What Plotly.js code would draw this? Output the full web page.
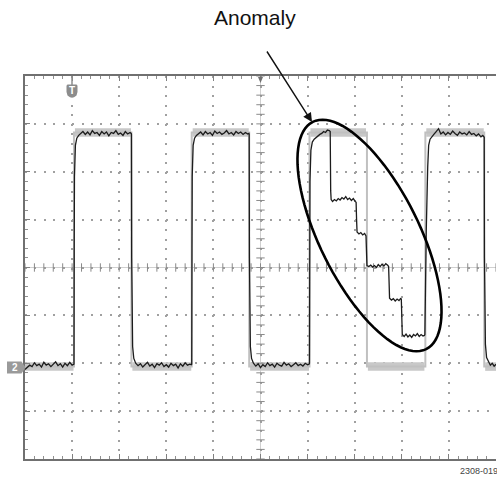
<!DOCTYPE html>
<html><head><meta charset="utf-8">
<script src="https://cdn.plot.ly/plotly-3.0.1.min.js"></script>
<style>html,body{margin:0;padding:0;background:#fff;}#chart{width:497px;height:477px;}</style>
</head><body><div id="chart"></div>
<script>
// ---- Data (horizontal: divisions 0..10, vertical: divisions -4..4) ----
// Measured (black) channel-2 trace
const sigT = [
 0.00,0.05,0.10,0.15,0.20,0.25,0.30,0.35,0.40,0.45,0.50,0.55,0.60,0.65,0.70,0.75,0.80,0.85,0.90,0.95,1.00,1.03,
 1.04,1.045,1.05,1.07,1.10,1.14,
 1.18,1.23,1.28,1.33,1.38,1.43,1.48,1.53,1.58,1.63,1.68,1.73,1.78,1.83,1.88,1.93,1.98,2.03,2.08,2.13,2.18,2.23,2.255,
 2.26,2.265,2.27,2.285,2.31,2.35,
 2.40,2.45,2.50,2.55,2.60,2.65,2.70,2.75,2.80,2.85,2.90,2.95,3.00,3.05,3.10,3.15,3.20,3.25,3.30,3.35,3.40,3.45,3.50,3.53,
 3.54,3.545,3.55,3.57,3.60,3.64,
 3.68,3.73,3.78,3.83,3.88,3.93,3.98,4.03,4.08,4.13,4.18,4.23,4.28,4.33,4.38,4.43,4.48,4.53,4.58,4.63,4.68,4.73,4.755,
 4.76,4.765,4.77,4.785,4.81,4.85,
 4.90,4.95,5.00,5.05,5.10,5.15,5.20,5.25,5.30,5.35,5.40,5.45,5.50,5.55,5.60,5.65,5.70,5.75,5.80,5.85,5.90,5.95,6.00,6.03,
 6.04,6.045,6.05,6.07,6.10,6.14,6.18,6.22,6.26,6.30,6.34,6.38,6.42,6.46,6.48,
 6.49,6.50,6.53,6.57,6.61,6.65,6.69,6.73,6.77,6.81,6.85,6.89,6.93,6.97,7.01,7.03,
 7.04,7.05,7.09,7.13,7.17,7.21,7.24,
 7.25,7.26,7.30,7.34,7.38,7.42,7.46,7.50,7.54,7.58,7.62,7.66,7.70,7.72,
 7.73,7.74,7.78,7.82,7.86,7.90,7.94,7.98,7.99,
 8.00,8.01,8.05,8.09,8.13,8.17,8.21,8.25,8.29,8.33,8.37,8.41,8.45,8.48,
 8.49,8.50,8.52,8.55,8.57,8.60,8.64,
 8.68,8.73,8.78,8.83,8.88,8.93,8.98,9.03,9.08,9.13,9.18,9.23,9.28,9.33,9.38,9.43,9.48,9.53,9.58,9.63,9.68,9.72,9.745,
 9.75,9.755,9.76,9.775,9.80,9.84,
 9.88,9.92,9.96,10.00
];
const sigV = [
 -2.13,-2.09,-2.04,-2.07,-1.99,-2.05,-2.02,-2.08,-1.98,-2.04,-2.01,-2.07,-2.02,-1.97,-2.05,-2.01,-2.08,-2.00,-2.05,-1.98,-2.04,-2.03,
 -2.02,0.40,1.90,2.55,2.70,2.76,
 2.79,2.84,2.78,2.83,2.77,2.86,2.80,2.82,2.76,2.84,2.79,2.83,2.75,2.82,2.80,2.86,2.78,2.81,2.76,2.84,2.79,2.82,2.80,
 2.78,0.20,-0.90,-1.65,-1.90,-2.00,
 -2.05,-2.01,-2.08,-2.03,-1.98,-2.06,-2.02,-2.09,-2.01,-2.04,-1.99,-2.07,-2.03,-2.08,-2.00,-2.05,-2.02,-2.10,-2.01,-2.06,-1.99,-2.04,-2.02,-2.03,
 -2.02,0.40,1.90,2.55,2.70,2.76,
 2.80,2.83,2.77,2.84,2.79,2.82,2.76,2.85,2.80,2.83,2.78,2.81,2.86,2.79,2.82,2.77,2.84,2.80,2.83,2.78,2.82,2.79,2.80,
 2.78,0.20,-0.90,-1.65,-1.90,-2.00,
 -2.06,-2.01,-2.09,-2.03,-2.07,-1.99,-2.05,-2.02,-2.08,-2.00,-2.04,-2.06,-1.98,-2.04,-2.01,-2.07,-2.03,-1.99,-2.05,-2.02,-2.06,-2.00,-2.03,-2.02,
 -2.00,0.40,1.80,2.45,2.62,2.68,2.72,2.75,2.78,2.80,2.84,2.82,2.87,2.86,2.84,
 1.60,1.42,1.38,1.42,1.39,1.44,1.41,1.46,1.43,1.48,1.42,1.45,1.40,1.44,1.38,1.36,
 1.00,0.74,0.70,0.73,0.68,0.71,0.66,
 0.30,0.04,0.02,0.05,0.01,0.04,0.00,0.06,0.02,0.07,0.03,0.08,0.05,0.02,
 -0.30,-0.64,-0.68,-0.65,-0.70,-0.66,-0.69,-0.64,-0.67,
 -1.00,-1.40,-1.44,-1.39,-1.45,-1.41,-1.46,-1.40,-1.43,-1.38,-1.44,-1.40,-1.43,-1.42,
 -1.40,-0.50,0.80,2.10,2.55,2.68,2.74,
 2.78,2.84,2.90,2.79,2.83,2.77,2.82,2.78,2.85,2.80,2.76,2.83,2.79,2.81,2.77,2.84,2.78,2.80,2.75,2.79,2.73,2.76,2.74,
 2.72,0.20,-0.90,-1.60,-1.88,-1.98,
 -2.04,-2.00,-2.06,-2.02
];
// Reference (persistence, grey) waveform
const refT = [0, 1.04, 1.04, 2.26, 2.26, 3.54, 3.54, 4.76, 4.76, 6.04, 6.04, 7.26, 7.26, 8.50, 8.50, 9.75, 9.75, 10];
const refV = [-2.07, -2.07, 2.82, 2.82, -2.07, -2.07, 2.82, 2.82, -2.07, -2.07, 2.82, 2.82, -2.07, -2.07, 2.82, 2.82, -2.07, -2.07];
// Grey noise envelope on the flat parts
const bandT = [0, 1.03, null, 1.06, 2.25, null, 2.28, 3.53, null, 3.56, 4.75, null, 4.78, 6.03, null, 6.06, 7.24, null, 7.28, 8.48, null, 8.52, 9.74, null, 9.77, 10];
const bandV = [-2.07, -2.07, null, 2.82, 2.82, null, -2.07, -2.07, null, 2.82, 2.82, null, -2.07, -2.07, null, 2.82, 2.82, null, -2.07, -2.07, null, 2.82, 2.82, null, -2.07, -2.07];

// ---- geometry helpers (plot area: 25..496 x, 76..459 y) ----
const L = 25, T = 76, W = 471, H = 383;
const px2paperX = p => (p - L) / W;
const px2paperY = p => (T + H - p) / H;
function pathPx(pts) {
  return 'M' + pts.map(p => px2paperX(p[0]).toFixed(5) + ',' + px2paperY(p[1]).toFixed(5)).join('L') + 'Z';
}
// ellipse round the anomaly (pixel geometry)
const ell = {cx: 369.5, cy: 235.5, a: 127, b: 49.7, ang: 63.5};
const ellPts = [];
{
  const th = ell.ang * Math.PI / 180;
  for (let i = 0; i < 96; i++) {
    const s = i / 96 * 2 * Math.PI;
    ellPts.push([ell.cx + ell.a * Math.cos(s) * Math.cos(th) - ell.b * Math.sin(s) * Math.sin(th),
                 ell.cy + ell.a * Math.cos(s) * Math.sin(th) + ell.b * Math.sin(s) * Math.cos(th)]);
  }
}
// centre-cross tick marks
const crossHX = [], crossHY = [], crossVX = [], crossVY = [];
for (let i = 0; i <= 50; i++) { crossHX.push(i * 0.2); crossHY.push(0); }
for (let i = 0; i <= 40; i++) { crossVX.push(5); crossVY.push(-4 + i * 0.2); }

const traces = [
  {x: bandT, y: bandV, mode: 'lines', line: {color: '#c8c8c8', width: 8.5}, connectgaps: false, hoverinfo: 'skip'},
  {x: refT, y: refV, mode: 'lines', line: {color: '#c0c0c0', width: 2}, hoverinfo: 'skip'},
  {x: crossHX, y: crossHY, mode: 'markers', marker: {symbol: 'line-ns', size: 6, line: {width: 1, color: '#8a8a8a'}}, hoverinfo: 'skip'},
  {x: crossVX, y: crossVY, mode: 'markers', marker: {symbol: 'line-ew', size: 6, line: {width: 1, color: '#8a8a8a'}}, hoverinfo: 'skip'},
  {x: sigT, y: sigV, mode: 'lines', line: {color: '#1c1c1c', width: 1.3}, hoverinfo: 'skip'}
];

const layout = {
  width: 497, height: 477,
  margin: {l: L, r: 497 - L - W, t: T, b: 477 - T - H},
  paper_bgcolor: '#fff', plot_bgcolor: '#fff',
  showlegend: false,
  xaxis: {range: [0, 10], dtick: 1, tick0: 0, showticklabels: false, zeroline: false,
    showgrid: true, gridcolor: '#a0a0a0', gridwidth: 2, griddash: '2px,7.575px',
    showline: true, linecolor: '#707070', linewidth: 2, mirror: 'ticks',
    ticks: 'inside', ticklen: 5, tickcolor: '#808080', tickwidth: 1,
    minor: {dtick: 0.2, tick0: 0, ticks: 'inside', ticklen: 3, tickcolor: '#909090', tickwidth: 1, showgrid: false}},
  yaxis: {range: [-4, 4], dtick: 1, tick0: 0, showticklabels: false, zeroline: false,
    showgrid: true, gridcolor: '#a0a0a0', gridwidth: 2, griddash: '2px,7.42px',
    showline: true, linecolor: '#707070', linewidth: 2, mirror: false,
    ticks: 'inside', ticklen: 5, tickcolor: '#808080', tickwidth: 1,
    minor: {dtick: 0.2, tick0: 0, ticks: 'inside', ticklen: 3, tickcolor: '#909090', tickwidth: 1, showgrid: false}},
  shapes: [
    {type: 'line', xref: 'paper', yref: 'paper', x0: 0, x1: 1, y0: 0.5, y1: 0.5, line: {color: '#d0d0d0', width: 1}, layer: 'below'},
    {type: 'line', xref: 'paper', yref: 'paper', x0: 0.5, x1: 0.5, y0: 0, y1: 1, line: {color: '#d0d0d0', width: 1}, layer: 'below'},
    {type: 'path', xref: 'paper', yref: 'paper', path: pathPx(ellPts), line: {color: '#000', width: 2.6}, layer: 'above'},
    // channel 2 ground marker
    {type: 'path', xref: 'paper', yref: 'paper', path: pathPx([[7, 361.5], [21.5, 361.5], [25.5, 367.5], [21.5, 373.5], [7, 373.5]]),
      fillcolor: '#9a9a9a', line: {width: 0}, layer: 'above'},
    // trigger position marker
    {type: 'line', xref: 'paper', yref: 'paper', x0: px2paperX(72), x1: px2paperX(72), y0: px2paperY(76), y1: px2paperY(85), line: {color: '#8c8c8c', width: 1.5}},
    {type: 'path', xref: 'paper', yref: 'paper', path: pathPx([[66.5, 86], [67, 84.8], [68, 84.5], [76, 84.5], [77, 84.8], [77.5, 86], [77.5, 92], [76.5, 95.5], [74, 97.3], [72, 97.7], [70, 97.3], [67.5, 95.5], [66.5, 92]]),
      fillcolor: '#8c8c8c', line: {width: 0}, layer: 'above'},
    // horizontal trigger-point marker at top centre
    {type: 'path', xref: 'paper', yref: 'paper', path: pathPx([[258, 77], [263, 77], [260.5, 83]]), fillcolor: '#707070', line: {width: 0}}
  ],
  annotations: [
    {xref: 'paper', yref: 'paper', x: px2paperX(255), y: px2paperY(18), text: 'Anomaly', showarrow: false,
      xanchor: 'center', yanchor: 'middle', font: {family: 'Liberation Sans, Arial, sans-serif', size: 21, color: '#111'}},
    {xref: 'x', yref: 'y', x: (312 - L) / W * 10, y: (T + H / 2 - 122) / (H / 8), ax: -46, ay: -72, text: '', showarrow: true,
      arrowhead: 2, arrowsize: 1.3, arrowwidth: 1.4, arrowcolor: '#111', standoff: 0},
    {xref: 'paper', yref: 'paper', x: px2paperX(458), y: px2paperY(471), text: '2308-019', showarrow: false,
      xanchor: 'left', yanchor: 'middle', font: {family: 'Liberation Sans, Arial, sans-serif', size: 9, color: '#444'}},
    {xref: 'paper', yref: 'paper', x: px2paperX(14.5), y: px2paperY(367.5), text: '<b>2</b>', showarrow: false,
      xanchor: 'center', yanchor: 'middle', font: {family: 'Liberation Sans, Arial, sans-serif', size: 10, color: '#fff'}},
    {xref: 'paper', yref: 'paper', x: px2paperX(72), y: px2paperY(91), text: '<b>T</b>', showarrow: false,
      xanchor: 'center', yanchor: 'middle', font: {family: 'Liberation Sans, Arial, sans-serif', size: 10, color: '#fff'}}
  ]
};

Plotly.newPlot('chart', traces, layout, {staticPlot: true, displayModeBar: false});
</script>
</body></html>
